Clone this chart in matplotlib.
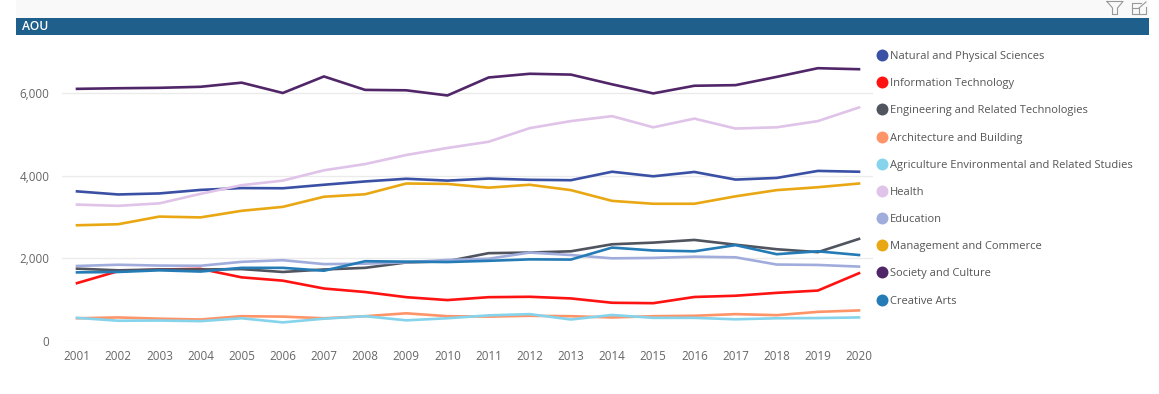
import matplotlib
matplotlib.use("Agg")
import matplotlib.pyplot as plt
from matplotlib.lines import Line2D
from matplotlib.patches import Rectangle

plt.rcParams["font.family"] = ["Open Sans", "DejaVu Sans"]

years = list(range(2001, 2021))

natural = [3620, 3545, 3570, 3655, 3700, 3695, 3780, 3860, 3925, 3880, 3930, 3900, 3890, 4095, 3985, 4090, 3905, 3945, 4115, 4095]
it = [1400, 1690, 1730, 1745, 1540, 1460, 1270, 1185, 1060, 990, 1060, 1070, 1030, 925, 915, 1065, 1095, 1165, 1220, 1640]
engineering = [1750, 1710, 1730, 1730, 1740, 1670, 1730, 1770, 1900, 1930, 2125, 2140, 2170, 2340, 2380, 2445, 2330, 2220, 2150, 2470]
architecture = [550, 570, 540, 520, 600, 590, 550, 600, 670, 600, 590, 610, 600, 570, 600, 610, 650, 625, 705, 740]
agriculture = [560, 490, 495, 480, 550, 450, 540, 600, 500, 550, 620, 650, 520, 630, 560, 560, 525, 550, 555, 570]
health = [3300, 3270, 3330, 3560, 3770, 3880, 4130, 4280, 4500, 4670, 4820, 5150, 5320, 5440, 5170, 5380, 5140, 5170, 5320, 5650]
education = [1815, 1845, 1825, 1820, 1915, 1955, 1860, 1870, 1905, 1960, 1990, 2140, 2080, 2000, 2010, 2040, 2025, 1850, 1840, 1800]
management = [2800, 2825, 3010, 2990, 3150, 3245, 3490, 3550, 3810, 3800, 3710, 3780, 3650, 3390, 3320, 3320, 3500, 3650, 3720, 3810]
society = [6100, 6115, 6125, 6150, 6250, 6000, 6400, 6075, 6065, 5940, 6375, 6465, 6445, 6210, 5990, 6175, 6190, 6390, 6600, 6575]
creative = [1660, 1670, 1710, 1680, 1770, 1770, 1700, 1930, 1920, 1910, 1940, 1975, 1970, 2260, 2190, 2170, 2320, 2100, 2170, 2080]

names = ["Natural and Physical Sciences", "Information Technology", "Engineering and Related Technologies",
         "Architecture and Building", "Agriculture Environmental and Related Studies", "Health", "Education",
         "Management and Commerce", "Society and Culture", "Creative Arts"]
series = [natural, it, engineering, architecture, agriculture, health, education, management, society, creative]
colors = ["#3A50A5", "#FF1212", "#50545E", "#FF9468", "#85D4EC", "#DFC3E8", "#A0ADDC", "#E9A813", "#512668", "#247BB5"]

W, H = 1159, 394
fig = plt.figure(figsize=(W / 100, H / 100), dpi=100)

# axes box in pixels: x 62-873, y 38-341
ax = fig.add_axes([62 / W, 1 - 341 / H, (873 - 62) / W, (341 - 38) / H])
for vals, c, n in zip(series, colors, names):
    ax.plot(years, vals, color=c, lw=1.9, label=n, solid_joinstyle="miter")

ax.set_xlim(2001 - 15 / 41.16, 2020 + 14 / 41.16)
ax.set_ylim(0, 303 / 82.67 * 2000)
ax.set_yticks([0, 2000, 4000, 6000])
ax.set_yticklabels(["0", "2,000", "4,000", "6,000"])
ax.set_xticks(years)
ax.grid(axis="y", color="#EBEBEB", lw=1)
ax.set_axisbelow(True)
for s in ax.spines.values():
    s.set_visible(False)
ax.tick_params(axis="both", length=0, labelsize=8.4, labelcolor="#666666")
ax.tick_params(axis="y", pad=9)
ax.tick_params(axis="x", pad=6.5)

handles = [Line2D([], [], ls="none", marker="o", ms=8.6, color=c, mew=0) for c in colors]
leg = fig.legend(handles, names, loc="upper left", bbox_to_anchor=(873 / W, 1 - 51 / H), frameon=False,
                 fontsize=8, labelcolor="#555555", labelspacing=1.455, handletextpad=-0.05,
                 handlelength=1.6, borderpad=0, borderaxespad=0)

# top strip, title band and the two small icons, in pixel coords
top = fig.add_axes([0, 0, 1, 1], zorder=5)
top.set_xlim(0, W)
top.set_ylim(H, 0)
top.axis("off")
top.add_patch(Rectangle((16, 0), 1133, 18, color="#F9F9F9", lw=0))
top.add_patch(Rectangle((16, 18), 1133, 17, color="#1F5F8B", lw=0))
top.text(22, 26.5, "AOU", color="white", fontsize=8.7, va="center", ha="left", fontweight="semibold")
top.plot([1107, 1123, 1117.5, 1117.5, 1112.5, 1112.5, 1107], [1.5, 1.5, 8, 14.5, 14.5, 8, 1.5], color="#999999", lw=0.8)
top.plot([1141, 1132, 1132, 1146, 1146], [2.5, 2.5, 13.5, 13.5, 7], color="#999999", lw=0.8)
top.plot([1132, 1139, 1139], [8, 8, 13.5], color="#999999", lw=0.8)
top.plot([1139, 1146], [8, 2], color="#999999", lw=0.8)

fig.savefig("out.png", dpi=100)
